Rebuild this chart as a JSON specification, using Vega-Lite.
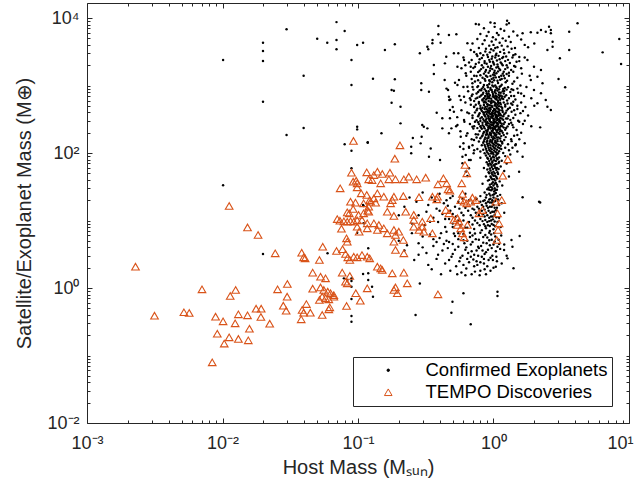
{
  "$schema": "https://vega.github.io/schema/vega-lite/v6.json",
  "width": 542,
  "height": 420,
  "autosize": {"type": "none"},
  "padding": {"left": 87, "top": 3, "right": 10, "bottom": 75},
  "background": "white",
  "config": {
    "view": {"stroke": null},
    "font": "Liberation Sans",
    "axis": {"domainColor": "#262626", "tickColor": "#262626", "labelColor": "#262626", "titleColor": "#262626", "labelFont": "Liberation Sans", "titleFont": "Liberation Sans", "labelFontSize": 18, "titleFontSize": 20, "titleFontWeight": "normal", "grid": false, "domainWidth": 1, "tickWidth": 1, "labelOverlap": false, "labelFlush": false},
    "legend": {"orient": "bottom-right", "offset": 17, "padding": 4, "strokeColor": "#262626", "fillColor": "white", "labelFont": "Liberation Sans", "labelFontSize": 18.5, "labelColor": "#000000", "labelLimit": 400, "symbolStrokeWidth": 1, "rowPadding": 3, "symbolOffset": 22, "labelOffset": 28, "cornerRadius": 0}
  },
  "datasets": {
    "exo": [
      {"host":0.0297,"mass":6800},{"host":0.0199,"mass":4310},{"host":0.0199,"mass":3240},{"host":0.0199,"mass":2310},{"host":0.0101,"mass":2390},{"host":0.0397,"mass":1400},{"host":0.0199,"mass":576},{"host":0.0397,"mass":235},{"host":0.0297,"mass":185},{"host":0.0101,"mass":33.2},{"host":0.0694,"mass":8700},{"host":0.0797,"mass":6420},{"host":0.05,"mass":4940},{"host":0.0593,"mass":4310},{"host":0.0694,"mass":4720},{"host":0.0694,"mass":3440},{"host":0.0986,"mass":3980},{"host":0.109,"mass":4310},{"host":0.0895,"mass":2390},{"host":0.0895,"mass":1020},{"host":0.0986,"mass":245},{"host":0.0986,"mass":224},{"host":0.0797,"mass":135},{"host":0.0895,"mass":108},{"host":0.118,"mass":142},{"host":0.0895,"mass":59.4},{"host":0.11,"mass":16.4},{"host":0.0199,"mass":3.19},{"host":0.0596,"mass":3.27},{"host":0.109,"mass":17},{"host":0.11,"mass":9.1},{"host":0.0986,"mass":6.6},{"host":0.119,"mass":3.87},{"host":0.109,"mass":1.61},{"host":0.119,"mass":1.65},{"host":0.119,"mass":1.31},{"host":0.0895,"mass":1.39},{"host":0.0895,"mass":1.27},{"host":0.0895,"mass":1.045},{"host":0.0895,"mass":0.687},{"host":0.0895,"mass":0.384},{"host":0.0895,"mass":0.317},{"host":0.0833,"mass":1.31},{"host":0.0787,"mass":1.39},
      {"host":0.158,"mass":3360},{"host":0.187,"mass":4080},{"host":0.129,"mass":1260},{"host":0.187,"mass":1235},{"host":0.177,"mass":858},{"host":0.184,"mass":837},{"host":0.177,"mass":556},{"host":0.206,"mass":485},{"host":0.206,"mass":275},{"host":0.149,"mass":196},{"host":0.118,"mass":144},{"host":0.254,"mass":167},{"host":0.247,"mass":124},{"host":0.247,"mass":99},{"host":0.29,"mass":139},{"host":0.295,"mass":174},{"host":0.306,"mass":245},{"host":0.325,"mass":232},{"host":0.344,"mass":117},{"host":0.334,"mass":88},{"host":0.403,"mass":79},{"host":0.298,"mass":260},{"host":0.293,"mass":1080},{"host":0.293,"mass":858},{"host":0.334,"mass":809},{"host":0.286,"mass":3000},{"host":0.325,"mass":3760},{"host":0.33,"mass":3440},{"host":0.355,"mass":4720},{"host":0.354,"mass":4220},{"host":0.392,"mass":7620},{"host":0.392,"mass":5740},{"host":0.407,"mass":4310},{"host":0.363,"mass":2010},{"host":0.363,"mass":1480},{"host":0.436,"mass":1210},{"host":0.462,"mass":858},{"host":0.472,"mass":610},{"host":0.381,"mass":395},{"host":0.419,"mass":327},{"host":0.477,"mass":327},{"host":0.438,"mass":2130},{"host":0.448,"mass":2670},{"host":0.469,"mass":5600},{"host":0.532,"mass":5740},{"host":0.51,"mass":3000},{"host":0.542,"mass":1900},{"host":0.556,"mass":1210},{"host":0.542,"mass":1020},{"host":0.573,"mass":610},{"host":0.469,"mass":683},{"host":0.477,"mass":434},{"host":0.51,"mass":409},{"host":0.542,"mass":260},{"host":0.419,"mass":232},{"host":0.489,"mass":232},{"host":0.469,"mass":196},{"host":0.573,"mass":174},{"host":0.566,"mass":124},{"host":0.6,"mass":115},{"host":0.624,"mass":93.4},{"host":0.59,"mass":88},{"host":0.659,"mass":79},{"host":0.59,"mass":70.4},{"host":0.624,"mass":52.8},{"host":0.659,"mass":59.4},{"host":0.642,"mass":45.6},
      {"host":2.43,"mass":6270},{"host":2.24,"mass":6640},{"host":2.11,"mass":6060},{"host":1.885,"mass":6140},{"host":1.64,"mass":5940},{"host":2.57,"mass":7440},{"host":2.65,"mass":6640},{"host":2.65,"mass":5940},{"host":2.73,"mass":4460},{"host":2.73,"mass":3760},{"host":2.5,"mass":3360},{"host":3.62,"mass":6270},{"host":4.17,"mass":8360},{"host":6.39,"mass":3100},{"host":8.48,"mass":4890},{"host":8.74,"mass":2080},{"host":3.09,"mass":2530},{"host":3.02,"mass":1250},{"host":3.38,"mass":940},{"host":3.62,"mass":3360},{"host":1.78,"mass":2390},{"host":1.99,"mass":1900},{"host":2.24,"mass":1700},{"host":1.885,"mass":1210},{"host":2.11,"mass":1350},{"host":2.3,"mass":1080},{"host":1.99,"mass":858},{"host":2.24,"mass":766},{"host":2.43,"mass":610},{"host":2.11,"mass":545},{"host":2.5,"mass":485},{"host":2.65,"mass":434},{"host":2.21,"mass":240},{"host":1.64,"mass":88},{"host":1.545,"mass":52.8},{"host":2.17,"mass":19},
      {"host":0.642,"mass":4220},{"host":0.679,"mass":3360},{"host":0.606,"mass":2390},{"host":0.679,"mass":1900},{"host":0.624,"mass":1520},{"host":0.699,"mass":1080},{"host":0.642,"mass":960},{"host":0.606,"mass":683},{"host":0.679,"mass":610},{"host":0.718,"mass":485},{"host":0.659,"mass":387},{"host":0.606,"mass":308},{"host":0.699,"mass":245},{"host":0.642,"mass":196},{"host":0.718,"mass":156},{"host":0.659,"mass":124},{"host":0.714,"mass":99},{"host":0.679,"mass":79},
      {"host":0.498,"mass":0.627},{"host":0.6,"mass":0.836},{"host":0.489,"mass":0.431},{"host":0.266,"mass":0.398},{"host":0.679,"mass":0.29},{"host":1.07,"mass":0.882},{"host":1.07,"mass":0.762},{"host":0.127,"mass":1.045},{"host":0.129,"mass":0.744},{"host":0.286,"mass":1.17},{"host":1.405,"mass":1.96},{"host":1.56,"mass":5.9},{"host":1.64,"mass":22.1},{"host":2.21,"mass":18.5},{"host":1.357,"mass":5.14},{"host":1.38,"mass":4.09},{"host":1.197,"mass":3.66},{"host":1.268,"mass":2.75},{"host":1.04,"mass":2.07},
      {"host":1.26,"mass":9100},{"host":1.02,"mass":8400},{"host":0.78,"mass":8000},{"host":1.3,"mass":8400},
      {"host":0.74,"mass":8150},{"host":0.85,"mass":7060},{"host":0.95,"mass":8600},{"host":1.02,"mass":7400},{"host":1.13,"mass":6900},{"host":1.25,"mass":8000},{"host":0.92,"mass":6200},{"host":1.06,"mass":6000},{"host":1.2,"mass":6500},{"host":1.4,"mass":6300},{"host":0.8,"mass":5800},{"host":0.89,"mass":5410},{"host":0.99,"mass":5200},{"host":1.09,"mass":5600},{"host":1.17,"mass":5000},{"host":1.3,"mass":5300},{"host":1.5,"mass":5500},{"host":0.76,"mass":4900},{"host":0.86,"mass":4700},{"host":0.97,"mass":4500},{"host":1.04,"mass":4800},{"host":1.11,"mass":4300},{"host":1.23,"mass":4600},{"host":1.34,"mass":4400},{"host":1.6,"mass":4800},{"host":0.7,"mass":4200},{"host":0.83,"mass":4110},{"host":0.93,"mass":3900},{"host":1.0,"mass":4000},{"host":1.07,"mass":3700},{"host":1.15,"mass":3900},{"host":1.27,"mass":3800},{"host":1.44,"mass":3600},{"host":1.7,"mass":4000},{"host":0.78,"mass":3590},{"host":0.88,"mass":3500},{"host":0.96,"mass":3450},{"host":1.03,"mass":3600},{"host":1.19,"mass":3400},{"host":1.36,"mass":3500},{"host":2.0,"mass":4200},{"host":1.8,"mass":3700},
      {"host":0.72,"mass":3130},{"host":0.8,"mass":3000},{"host":0.87,"mass":3200},{"host":0.94,"mass":3100},{"host":1.0,"mass":3300},{"host":1.05,"mass":2950},{"host":1.12,"mass":3150},{"host":1.2,"mass":3000},{"host":1.3,"mass":3100},{"host":1.45,"mass":2900},{"host":0.76,"mass":2730},{"host":0.84,"mass":2800},{"host":0.91,"mass":2650},{"host":0.98,"mass":2700},{"host":1.03,"mass":2600},{"host":1.09,"mass":2750},{"host":1.16,"mass":2550},{"host":1.24,"mass":2700},{"host":1.38,"mass":2600},{"host":1.55,"mass":2650},{"host":0.69,"mass":2390},{"host":0.79,"mass":2450},{"host":0.86,"mass":2300},{"host":0.93,"mass":2400},{"host":0.99,"mass":2250},{"host":1.06,"mass":2350},{"host":1.13,"mass":2200},{"host":1.22,"mass":2300},{"host":1.32,"mass":2150},{"host":1.48,"mass":2250},{"host":0.74,"mass":2080},{"host":0.82,"mass":2000},{"host":0.89,"mass":2100},{"host":0.96,"mass":1950},{"host":1.01,"mass":2050},{"host":1.08,"mass":1900},{"host":1.17,"mass":2000},{"host":1.27,"mass":1850},{"host":1.42,"mass":1950},{"host":0.71,"mass":1820},{"host":0.81,"mass":1750},{"host":0.88,"mass":1700},{"host":0.95,"mass":1800},{"host":1.02,"mass":1650},{"host":1.1,"mass":1780},{"host":1.19,"mass":1600},{"host":1.35,"mass":1700},{"host":1.6,"mass":1800},{"host":0.77,"mass":1580},{"host":0.85,"mass":1500},{"host":0.92,"mass":1550},{"host":0.99,"mass":1450},{"host":1.05,"mass":1520},{"host":1.14,"mass":1400},{"host":1.25,"mass":1480},{"host":0.75,"mass":1380},{"host":0.83,"mass":1300},{"host":0.9,"mass":1350},{"host":0.97,"mass":1250},{"host":1.04,"mass":1320},{"host":1.12,"mass":1220},{"host":1.21,"mass":1280},
      {"host":0.73,"mass":1150},{"host":0.8,"mass":1100},{"host":0.87,"mass":1180},{"host":0.93,"mass":1050},{"host":0.98,"mass":1120},{"host":1.03,"mass":1000},{"host":1.08,"mass":1090},{"host":1.15,"mass":1030},{"host":1.23,"mass":1120},{"host":1.38,"mass":1060},{"host":0.77,"mass":980},{"host":0.84,"mass":950},{"host":0.9,"mass":1010},{"host":0.95,"mass":920},{"host":1.0,"mass":970},{"host":1.06,"mass":900},{"host":1.11,"mass":960},{"host":1.18,"mass":890},{"host":1.28,"mass":940},{"host":1.5,"mass":900},{"host":0.71,"mass":870},{"host":0.81,"mass":850},{"host":0.86,"mass":880},{"host":0.92,"mass":820},{"host":0.97,"mass":860},{"host":1.02,"mass":800},{"host":1.07,"mass":840},{"host":1.13,"mass":780},{"host":1.2,"mass":830},{"host":1.33,"mass":800},{"host":0.75,"mass":760},{"host":0.83,"mass":740},{"host":0.89,"mass":770},{"host":0.94,"mass":720},{"host":0.99,"mass":750},{"host":1.04,"mass":700},{"host":1.09,"mass":730},{"host":1.16,"mass":690},{"host":1.24,"mass":720},{"host":1.42,"mass":700},{"host":0.79,"mass":680},{"host":0.85,"mass":650},{"host":0.91,"mass":690},{"host":0.96,"mass":640},{"host":1.01,"mass":670},{"host":1.05,"mass":620},{"host":1.1,"mass":660},{"host":1.18,"mass":630},{"host":1.3,"mass":650},{"host":0.74,"mass":640},{"host":0.88,"mass":620},{"host":1.12,"mass":615},{"host":0.69,"mass":700},{"host":1.6,"mass":760},{"host":1.36,"mass":880},{"host":0.82,"mass":900},{"host":0.94,"mass":1150},{"host":1.26,"mass":1180},{"host":1.01,"mass":1200},{"host":0.9,"mass":730},
      {"host":0.72,"mass":590},{"host":0.78,"mass":570},{"host":0.83,"mass":600},{"host":0.88,"mass":560},{"host":0.92,"mass":590},{"host":0.96,"mass":550},{"host":1.0,"mass":580},{"host":1.04,"mass":540},{"host":1.08,"mass":570},{"host":1.13,"mass":530},{"host":1.19,"mass":560},{"host":1.27,"mass":540},{"host":1.4,"mass":575},{"host":0.74,"mass":520},{"host":0.8,"mass":500},{"host":0.85,"mass":515},{"host":0.9,"mass":490},{"host":0.94,"mass":510},{"host":0.98,"mass":480},{"host":1.02,"mass":505},{"host":1.06,"mass":470},{"host":1.1,"mass":495},{"host":1.16,"mass":465},{"host":1.22,"mass":490},{"host":1.32,"mass":470},{"host":1.5,"mass":500},{"host":0.76,"mass":455},{"host":0.81,"mass":440},{"host":0.86,"mass":450},{"host":0.91,"mass":430},{"host":0.95,"mass":445},{"host":0.99,"mass":420},{"host":1.03,"mass":440},{"host":1.07,"mass":410},{"host":1.11,"mass":430},{"host":1.17,"mass":405},{"host":1.25,"mass":425},{"host":1.36,"mass":410},{"host":0.73,"mass":400},{"host":0.79,"mass":390},{"host":0.84,"mass":398},{"host":0.89,"mass":380},{"host":0.93,"mass":392},{"host":0.97,"mass":372},{"host":1.01,"mass":385},{"host":1.05,"mass":365},{"host":1.09,"mass":378},{"host":1.14,"mass":360},{"host":1.2,"mass":375},{"host":1.29,"mass":355},{"host":1.45,"mass":370},{"host":0.77,"mass":350},{"host":0.82,"mass":340},{"host":0.87,"mass":348},{"host":0.92,"mass":330},{"host":0.96,"mass":342},{"host":1.0,"mass":322},{"host":1.04,"mass":336},{"host":1.08,"mass":318},{"host":1.12,"mass":330},{"host":1.18,"mass":312},{"host":1.24,"mass":325},{"host":1.33,"mass":310},{"host":0.75,"mass":305},{"host":0.8,"mass":298},{"host":0.85,"mass":302},{"host":0.9,"mass":288},{"host":0.94,"mass":298},{"host":0.98,"mass":282},{"host":1.02,"mass":294},{"host":1.06,"mass":278},{"host":1.1,"mass":290},{"host":1.15,"mass":272},{"host":1.21,"mass":285},{"host":1.3,"mass":270},{"host":1.55,"mass":290},{"host":0.78,"mass":268},{"host":0.83,"mass":258},{"host":0.88,"mass":264},{"host":0.93,"mass":250},{"host":0.97,"mass":260},{"host":1.01,"mass":245},{"host":1.05,"mass":256},{"host":1.09,"mass":242},{"host":1.13,"mass":252},{"host":1.19,"mass":238},{"host":1.27,"mass":248},{"host":1.4,"mass":240},{"host":0.76,"mass":234},{"host":0.82,"mass":228},{"host":0.86,"mass":232},{"host":0.91,"mass":222},{"host":0.95,"mass":230},{"host":0.99,"mass":220},{"host":1.03,"mass":226},{"host":1.07,"mass":218},{"host":1.12,"mass":224},{"host":1.22,"mass":221},{"host":0.72,"mass":250},{"host":0.7,"mass":330},{"host":1.65,"mass":420},{"host":1.7,"mass":300},
      {"host":0.79,"mass":212},{"host":0.85,"mass":205},{"host":0.9,"mass":210},{"host":0.94,"mass":200},{"host":0.98,"mass":208},{"host":1.02,"mass":196},{"host":1.06,"mass":204},{"host":1.11,"mass":192},{"host":1.17,"mass":200},{"host":1.26,"mass":195},{"host":0.77,"mass":188},{"host":0.83,"mass":182},{"host":0.88,"mass":186},{"host":0.92,"mass":178},{"host":0.96,"mass":184},{"host":1.0,"mass":174},{"host":1.04,"mass":180},{"host":1.09,"mass":170},{"host":1.14,"mass":178},{"host":1.23,"mass":172},{"host":0.8,"mass":166},{"host":0.86,"mass":160},{"host":0.9,"mass":164},{"host":0.95,"mass":156},{"host":0.99,"mass":162},{"host":1.03,"mass":152},{"host":1.07,"mass":158},{"host":1.13,"mass":150},{"host":1.2,"mass":156},{"host":1.35,"mass":160},{"host":0.78,"mass":148},{"host":0.84,"mass":142},{"host":0.89,"mass":146},{"host":0.93,"mass":138},{"host":0.97,"mass":144},{"host":1.01,"mass":134},{"host":1.05,"mass":140},{"host":1.1,"mass":132},{"host":1.16,"mass":138},{"host":1.28,"mass":135},{"host":0.82,"mass":130},{"host":0.87,"mass":124},{"host":0.91,"mass":128},{"host":0.95,"mass":120},{"host":0.99,"mass":126},{"host":1.03,"mass":117},{"host":1.08,"mass":122},{"host":1.14,"mass":115},{"host":1.22,"mass":120},{"host":0.84,"mass":112},{"host":0.89,"mass":108},{"host":0.93,"mass":111},{"host":0.97,"mass":104},{"host":1.01,"mass":109},{"host":1.05,"mass":102},{"host":1.1,"mass":106},{"host":1.18,"mass":100},{"host":1.3,"mass":110},{"host":0.86,"mass":99},{"host":0.92,"mass":97},{"host":0.96,"mass":98},{"host":1.0,"mass":95},{"host":1.06,"mass":96},{"host":0.8,"mass":105},{"host":1.45,"mass":130},{"host":0.75,"mass":170},{"host":1.5,"mass":185},{"host":1.12,"mass":210},
      {"host":0.88,"mass":92},{"host":0.94,"mass":90},{"host":0.99,"mass":88},{"host":1.04,"mass":91},{"host":1.1,"mass":86},{"host":0.91,"mass":82},{"host":0.96,"mass":80},{"host":1.01,"mass":78},{"host":1.07,"mass":81},{"host":1.15,"mass":77},{"host":0.89,"mass":73},{"host":0.94,"mass":70},{"host":0.98,"mass":72},{"host":1.03,"mass":68},{"host":1.09,"mass":71},{"host":0.92,"mass":65},{"host":0.97,"mass":62},{"host":1.02,"mass":64},{"host":1.06,"mass":60},{"host":1.13,"mass":63},{"host":0.9,"mass":57},{"host":0.95,"mass":55},{"host":1.0,"mass":53},{"host":1.05,"mass":56},{"host":1.2,"mass":54},{"host":0.93,"mass":50},{"host":0.98,"mass":48},{"host":1.03,"mass":46},{"host":1.08,"mass":49},{"host":0.88,"mass":45},{"host":0.96,"mass":43},{"host":1.01,"mass":41},{"host":1.06,"mass":42},{"host":0.91,"mass":39},{"host":0.99,"mass":37},{"host":1.04,"mass":36},{"host":1.11,"mass":38},{"host":0.94,"mass":34},{"host":1.0,"mass":33},{"host":1.07,"mass":32},{"host":0.92,"mass":30.5},{"host":0.97,"mass":31},{"host":1.02,"mass":30},{"host":0.85,"mass":60},{"host":1.25,"mass":70},{"host":0.8,"mass":85},{"host":1.3,"mass":45},{"host":0.83,"mass":35},{"host":1.16,"mass":33},{"host":1.22,"mass":90},
      {"host":0.9,"mass":29},{"host":0.96,"mass":28},{"host":1.01,"mass":27},{"host":1.06,"mass":28.5},{"host":0.86,"mass":26},{"host":0.93,"mass":25},{"host":0.99,"mass":24},{"host":1.04,"mass":25.5},{"host":1.12,"mass":24},{"host":0.8,"mass":23},{"host":0.88,"mass":22},{"host":0.95,"mass":21},{"host":1.0,"mass":22},{"host":1.08,"mass":20.5},{"host":0.75,"mass":21},{"host":0.84,"mass":19.5},{"host":0.91,"mass":19},{"host":0.97,"mass":18.5},{"host":1.03,"mass":19.5},{"host":1.15,"mass":18},{"host":0.7,"mass":18},{"host":0.82,"mass":17},{"host":0.89,"mass":16.5},{"host":0.94,"mass":16},{"host":1.0,"mass":17},{"host":1.06,"mass":15.5},{"host":0.78,"mass":15},{"host":0.86,"mass":14.5},{"host":0.92,"mass":14},{"host":0.98,"mass":13.5},{"host":1.04,"mass":14.2},{"host":1.2,"mass":13},{"host":0.65,"mass":14},{"host":0.74,"mass":13},{"host":0.84,"mass":12.5},{"host":0.9,"mass":12},{"host":0.96,"mass":11.5},{"host":1.02,"mass":12.2},{"host":1.1,"mass":11},{"host":0.6,"mass":12},{"host":0.7,"mass":11},{"host":0.8,"mass":10.5},{"host":0.87,"mass":10.2},{"host":0.93,"mass":9.8},{"host":0.99,"mass":10.4},{"host":1.07,"mass":9.5},{"host":0.55,"mass":10},{"host":0.66,"mass":9.5},{"host":0.76,"mass":9.2},{"host":0.85,"mass":8.8},{"host":0.91,"mass":8.5},{"host":0.97,"mass":8.9},{"host":1.03,"mass":8.2},{"host":0.5,"mass":8},{"host":0.62,"mass":7.8},{"host":0.72,"mass":7.5},{"host":0.82,"mass":7.2},{"host":0.88,"mass":7.7},{"host":0.94,"mass":7},{"host":1.0,"mass":7.4},{"host":1.13,"mass":8},
      {"host":0.3,"mass":26},{"host":0.35,"mass":22},{"host":0.4,"mass":25},{"host":0.45,"mass":20},{"host":0.5,"mass":23},{"host":0.55,"mass":19},{"host":0.33,"mass":17},{"host":0.38,"mass":15},{"host":0.43,"mass":18},{"host":0.48,"mass":14},{"host":0.52,"mass":16},{"host":0.58,"mass":13},{"host":0.28,"mass":12},{"host":0.36,"mass":11},{"host":0.42,"mass":12.5},{"host":0.47,"mass":10.5},{"host":0.53,"mass":11.5},{"host":0.6,"mass":10},{"host":0.25,"mass":9},{"host":0.31,"mass":8.5},{"host":0.39,"mass":9.5},{"host":0.44,"mass":8},{"host":0.5,"mass":9},{"host":0.57,"mass":8.6},{"host":0.64,"mass":7.8},{"host":0.27,"mass":19},{"host":0.22,"mass":16},{"host":0.2,"mass":12},{"host":0.24,"mass":22},{"host":0.62,"mass":25},
      {"host":0.25,"mass":6.5},{"host":0.3,"mass":5.8},{"host":0.28,"mass":4.6},{"host":0.34,"mass":6.2},{"host":0.36,"mass":4.2},{"host":0.4,"mass":5.5},{"host":0.42,"mass":3.6},{"host":0.45,"mass":6.8},{"host":0.47,"mass":4.8},{"host":0.5,"mass":3.2},{"host":0.52,"mass":5.9},{"host":0.55,"mass":4.1},{"host":0.57,"mass":2.8},{"host":0.6,"mass":6.3},{"host":0.62,"mass":3.7},{"host":0.64,"mass":5.0},{"host":0.66,"mass":2.4},{"host":0.68,"mass":4.4},{"host":0.7,"mass":6.0},{"host":0.72,"mass":3.1},{"host":0.74,"mass":5.3},{"host":0.76,"mass":2.2},{"host":0.78,"mass":3.9},{"host":0.8,"mass":6.6},{"host":0.82,"mass":2.9},{"host":0.84,"mass":4.7},{"host":0.86,"mass":1.9},{"host":0.88,"mass":3.4},{"host":0.9,"mass":5.6},{"host":0.92,"mass":2.6},{"host":0.94,"mass":4.3},{"host":0.96,"mass":6.2},{"host":0.98,"mass":3.0},{"host":1.0,"mass":2.0},{"host":1.02,"mass":4.9},{"host":1.04,"mass":3.5},{"host":1.06,"mass":2.5},{"host":1.09,"mass":5.2},{"host":1.12,"mass":3.8},{"host":1.15,"mass":2.3},{"host":1.2,"mass":4.4},{"host":1.25,"mass":3.0},{"host":0.32,"mass":3.3},{"host":0.38,"mass":2.7},{"host":0.44,"mass":2.3},{"host":0.48,"mass":1.8},{"host":0.53,"mass":2.1},{"host":0.58,"mass":1.7},{"host":0.63,"mass":1.95},{"host":0.69,"mass":1.6},{"host":0.73,"mass":1.75},{"host":0.79,"mass":1.55},{"host":0.35,"mass":1.9},{"host":0.41,"mass":1.6},{"host":0.22,"mass":3.6},{"host":0.2,"mass":5.0},{"host":0.26,"mass":2.6},{"host":0.46,"mass":3.9},{"host":0.51,"mass":6.4},{"host":0.61,"mass":4.6},{"host":0.67,"mass":5.7},{"host":0.71,"mass":2.65},{"host":0.77,"mass":4.1},{"host":0.83,"mass":3.6},{"host":0.87,"mass":6.1},{"host":0.93,"mass":5.1},{"host":0.97,"mass":3.9},{"host":1.01,"mass":6.5},{"host":1.07,"mass":4.1},{"host":0.55,"mass":5.3},{"host":0.65,"mass":3.3},{"host":0.75,"mass":2.5},{"host":0.85,"mass":2.3},{"host":0.95,"mass":1.8},{"host":0.39,"mass":3.1},{"host":0.49,"mass":2.9},{"host":0.59,"mass":3.0},
      {"host":0.75,"mass":2900},{"host":0.82,"mass":2550},{"host":0.9,"mass":2850},{"host":0.97,"mass":2500},{"host":1.04,"mass":2800},{"host":1.11,"mass":2450},{"host":1.18,"mass":2650},{"host":1.28,"mass":2400},{"host":0.78,"mass":2200},{"host":0.86,"mass":2150},{"host":0.94,"mass":2250},{"host":1.0,"mass":2150},{"host":1.07,"mass":2050},{"host":1.15,"mass":2100},{"host":1.25,"mass":2000},{"host":0.73,"mass":1900},{"host":0.84,"mass":1850},{"host":0.91,"mass":1900},{"host":0.98,"mass":1750},{"host":1.05,"mass":1850},{"host":1.12,"mass":1700},{"host":1.22,"mass":1750},{"host":1.4,"mass":1600},{"host":0.79,"mass":1650},{"host":0.87,"mass":1600},{"host":0.94,"mass":1650},{"host":1.01,"mass":1550},{"host":1.08,"mass":1620},{"host":1.17,"mass":1500},{"host":1.3,"mass":1550},{"host":0.8,"mass":1420},{"host":0.88,"mass":1400},{"host":0.95,"mass":1380},{"host":1.02,"mass":1420},{"host":1.1,"mass":1340},{"host":1.19,"mass":1400},{"host":0.86,"mass":1250},{"host":0.93,"mass":1200},{"host":1.0,"mass":1300},{"host":1.07,"mass":1180},{"host":1.15,"mass":1250},{"host":0.77,"mass":1200},
      {"host":0.76,"mass":950},{"host":0.85,"mass":1020},{"host":0.91,"mass":940},{"host":0.98,"mass":1000},{"host":1.05,"mass":940},{"host":1.13,"mass":980},{"host":1.21,"mass":920},{"host":0.79,"mass":850},{"host":0.88,"mass":830},{"host":0.95,"mass":870},{"host":1.03,"mass":850},{"host":1.1,"mass":880},{"host":1.17,"mass":820},{"host":1.25,"mass":870},{"host":0.77,"mass":800},{"host":0.84,"mass":780},{"host":0.92,"mass":760},{"host":0.98,"mass":800},{"host":1.04,"mass":760},{"host":1.1,"mass":790},{"host":1.19,"mass":760},{"host":0.81,"mass":710},{"host":0.87,"mass":690},{"host":0.93,"mass":680},{"host":1.0,"mass":710},{"host":1.06,"mass":680},{"host":1.13,"mass":710},{"host":1.21,"mass":680},{"host":0.76,"mass":660},{"host":0.83,"mass":620},{"host":0.9,"mass":650},{"host":0.97,"mass":600},{"host":1.03,"mass":640},{"host":1.08,"mass":600},{"host":1.15,"mass":650},{"host":1.26,"mass":600},{"host":0.78,"mass":540},{"host":0.86,"mass":580},{"host":0.9,"mass":530},{"host":0.95,"mass":575},{"host":1.02,"mass":560},{"host":1.07,"mass":520},{"host":1.12,"mass":555},{"host":1.22,"mass":520},{"host":1.35,"mass":540},{"host":0.8,"mass":460},{"host":0.87,"mass":480},{"host":0.93,"mass":460},{"host":0.97,"mass":500},{"host":1.01,"mass":450},{"host":1.05,"mass":490},{"host":1.09,"mass":450},{"host":1.14,"mass":485},{"host":1.28,"mass":450},{"host":0.75,"mass":430},{"host":0.82,"mass":420},{"host":0.88,"mass":410},{"host":0.94,"mass":420},{"host":0.98,"mass":400},{"host":1.04,"mass":415},{"host":1.1,"mass":395},{"host":1.16,"mass":430},{"host":1.23,"mass":395},{"host":0.78,"mass":370},{"host":0.85,"mass":375},{"host":0.91,"mass":360},{"host":0.95,"mass":375},{"host":0.99,"mass":355},{"host":1.03,"mass":370},{"host":1.07,"mass":350},{"host":1.12,"mass":380},{"host":1.18,"mass":350},{"host":0.8,"mass":325},{"host":0.84,"mass":318},{"host":0.89,"mass":325},{"host":0.93,"mass":312},{"host":0.98,"mass":330},{"host":1.02,"mass":315},{"host":1.06,"mass":330},{"host":1.1,"mass":310},{"host":1.15,"mass":325},{"host":1.27,"mass":325},{"host":0.77,"mass":285},{"host":0.83,"mass":280},{"host":0.87,"mass":290},{"host":0.92,"mass":275},{"host":0.96,"mass":285},{"host":1.0,"mass":270},{"host":1.04,"mass":285},{"host":1.08,"mass":265},{"host":1.12,"mass":280},{"host":1.19,"mass":268},{"host":1.35,"mass":280},{"host":0.8,"mass":250},{"host":0.85,"mass":245},{"host":0.9,"mass":255},{"host":0.95,"mass":242},{"host":0.99,"mass":258},{"host":1.03,"mass":240},{"host":1.07,"mass":252},{"host":1.11,"mass":238},{"host":1.16,"mass":250},{"host":1.24,"mass":235},
      {"host":0.81,"mass":238},{"host":0.88,"mass":215},{"host":0.92,"mass":235},{"host":0.97,"mass":212},{"host":1.01,"mass":232},{"host":1.05,"mass":215},{"host":1.09,"mass":228},{"host":1.15,"mass":212},{"host":0.84,"mass":195},{"host":0.89,"mass":200},{"host":0.94,"mass":190},{"host":1.0,"mass":200},{"host":1.05,"mass":188},{"host":1.09,"mass":198},{"host":1.19,"mass":185},{"host":0.82,"mass":175},{"host":0.87,"mass":170},{"host":0.92,"mass":168},{"host":0.97,"mass":172},{"host":1.02,"mass":165},{"host":1.06,"mass":170},{"host":1.12,"mass":164},{"host":0.85,"mass":150},{"host":0.9,"mass":152},{"host":0.94,"mass":148},{"host":0.98,"mass":152},{"host":1.03,"mass":145},{"host":1.07,"mass":150},{"host":1.16,"mass":146},{"host":0.86,"mass":132},{"host":0.9,"mass":136},{"host":0.95,"mass":130},{"host":0.99,"mass":138},{"host":1.04,"mass":128},{"host":1.08,"mass":134},{"host":1.13,"mass":128},{"host":0.88,"mass":116},{"host":0.92,"mass":120},{"host":0.97,"mass":114},{"host":1.01,"mass":120},{"host":1.06,"mass":112},{"host":1.11,"mass":118},{"host":0.9,"mass":102},{"host":0.95,"mass":106},{"host":0.99,"mass":100},{"host":1.03,"mass":104},{"host":1.08,"mass":99},
      {"host":0.9,"mass":85},{"host":0.96,"mass":84},{"host":1.01,"mass":86},{"host":1.06,"mass":84},{"host":0.93,"mass":76},{"host":0.98,"mass":75},{"host":1.04,"mass":76},{"host":1.1,"mass":74},{"host":0.91,"mass":68},{"host":0.96,"mass":67},{"host":1.0,"mass":66},{"host":1.05,"mass":69},{"host":0.94,"mass":59},{"host":0.99,"mass":58},{"host":1.03,"mass":60},{"host":1.09,"mass":58},{"host":0.92,"mass":52},{"host":0.97,"mass":51},{"host":1.02,"mass":50},{"host":1.07,"mass":52},{"host":0.95,"mass":45},{"host":1.0,"mass":46},{"host":1.05,"mass":44},{"host":0.93,"mass":40},{"host":0.98,"mass":41},{"host":1.03,"mass":39},{"host":0.97,"mass":35},{"host":1.02,"mass":35},{"host":1.06,"mass":34},{"host":0.95,"mass":31.5},
      {"host":0.93,"mass":28.5},{"host":0.98,"mass":29},{"host":1.03,"mass":28},{"host":0.89,"mass":24},{"host":0.95,"mass":23.5},{"host":1.01,"mass":24.5},{"host":1.07,"mass":23},{"host":0.86,"mass":20},{"host":0.93,"mass":20.5},{"host":0.98,"mass":20},{"host":1.04,"mass":21},{"host":0.8,"mass":19},{"host":0.88,"mass":18},{"host":0.94,"mass":18.5},{"host":1.0,"mass":19},{"host":1.1,"mass":17},{"host":0.76,"mass":16},{"host":0.84,"mass":16},{"host":0.91,"mass":15.5},{"host":0.97,"mass":16},{"host":1.02,"mass":15.5},{"host":0.72,"mass":14.5},{"host":0.82,"mass":14},{"host":0.88,"mass":13},{"host":0.95,"mass":13},{"host":1.01,"mass":13.5},{"host":0.68,"mass":12},{"host":0.78,"mass":12},{"host":0.86,"mass":11.5},{"host":0.93,"mass":11},{"host":0.99,"mass":11.5},{"host":1.05,"mass":11.2},{"host":0.73,"mass":10},{"host":0.83,"mass":9.8},{"host":0.9,"mass":9.5},{"host":0.96,"mass":10},{"host":1.02,"mass":9.7},{"host":0.7,"mass":8.7},{"host":0.79,"mass":8.5},{"host":0.87,"mass":8.2},{"host":0.94,"mass":8.3},{"host":1.0,"mass":8.6},{"host":0.46,"mass":16.5},{"host":0.5,"mass":12.5},{"host":0.56,"mass":15},{"host":0.4,"mass":14},{"host":0.44,"mass":10.5},{"host":0.54,"mass":9.5},{"host":0.62,"mass":15.5},{"host":0.66,"mass":20},{"host":0.7,"mass":15},{"host":0.59,"mass":21},{"host":0.48,"mass":21.5},{"host":0.37,"mass":19},{"host":0.32,"mass":13.5},{"host":0.34,"mass":9.6},
      {"host":0.45,"mass":5},{"host":0.5,"mass":4.5},{"host":0.55,"mass":6.5},{"host":0.6,"mass":5.1},{"host":0.63,"mass":4},{"host":0.67,"mass":6.6},{"host":0.7,"mass":4.8},{"host":0.73,"mass":6.4},{"host":0.75,"mass":3.6},{"host":0.78,"mass":5.2},{"host":0.81,"mass":4.2},{"host":0.84,"mass":5.7},{"host":0.86,"mass":3.2},{"host":0.89,"mass":4.6},{"host":0.91,"mass":3.7},{"host":0.93,"mass":6.6},{"host":0.95,"mass":2.8},{"host":0.97,"mass":5.2},{"host":1.0,"mass":4.4},{"host":1.03,"mass":5.8},{"host":1.05,"mass":2.9},{"host":1.1,"mass":4.5},{"host":1.14,"mass":6},{"host":0.56,"mass":2.5},{"host":0.6,"mass":2.2},{"host":0.68,"mass":2.9},{"host":0.72,"mass":2.1},{"host":0.77,"mass":3.0},{"host":0.8,"mass":2.4},{"host":0.85,"mass":2.7},{"host":0.9,"mass":2.1},{"host":0.99,"mass":2.6},{"host":0.36,"mass":5.3},{"host":0.41,"mass":6.5},{"host":0.43,"mass":4.5},{"host":0.52,"mass":3.7},{"host":0.3,"mass":4.0},{"host":0.33,"mass":2.2},{"host":0.38,"mass":4.8},{"host":0.28,"mass":3.1},{"host":0.23,"mass":4.3},{"host":0.47,"mass":2.6},{"host":0.64,"mass":2.7},{"host":0.69,"mass":3.5},{"host":0.8,"mass":1.8},{"host":0.88,"mass":1.6},{"host":0.62,"mass":1.55},{"host":0.54,"mass":1.6},
      {"host":0.55,"mass":3000},{"host":0.6,"mass":2600},{"host":0.66,"mass":2200},{"host":0.58,"mass":1800},{"host":0.63,"mass":1400},{"host":0.69,"mass":1250},{"host":0.52,"mass":1100},{"host":0.6,"mass":950},{"host":0.65,"mass":820},{"host":0.7,"mass":740},{"host":0.56,"mass":700},{"host":0.62,"mass":560},{"host":0.68,"mass":520},{"host":0.5,"mass":480},{"host":0.58,"mass":430},{"host":0.64,"mass":400},{"host":0.7,"mass":360},{"host":0.54,"mass":340},{"host":0.61,"mass":290},{"host":0.67,"mass":270},{"host":0.71,"mass":230},{"host":0.57,"mass":210},{"host":0.63,"mass":180},{"host":0.69,"mass":160},{"host":0.6,"mass":140},{"host":0.66,"mass":120},{"host":0.72,"mass":110},{"host":0.53,"mass":250},{"host":0.48,"mass":620},{"host":0.45,"mass":900},{"host":0.68,"mass":1600},{"host":0.62,"mass":2000},{"host":0.72,"mass":1400},{"host":0.7,"mass":950},{"host":0.67,"mass":650},{"host":0.72,"mass":480},{"host":0.73,"mass":290},{"host":0.74,"mass":190},{"host":0.7,"mass":130},{"host":0.76,"mass":115},
      {"host":1.4,"mass":2800},{"host":1.55,"mass":2300},{"host":1.7,"mass":2600},{"host":1.45,"mass":1900},{"host":1.62,"mass":1500},{"host":1.5,"mass":1300},{"host":1.85,"mass":1400},{"host":1.42,"mass":1150},{"host":1.58,"mass":1000},{"host":1.75,"mass":950},{"host":1.4,"mass":860},{"host":1.52,"mass":780},{"host":1.68,"mass":700},{"host":1.9,"mass":650},{"host":1.45,"mass":620},{"host":1.6,"mass":560},{"host":1.38,"mass":520},{"host":1.5,"mass":450},{"host":1.72,"mass":480},{"host":1.42,"mass":430},{"host":1.58,"mass":390},{"host":1.8,"mass":360},{"host":1.4,"mass":330},{"host":1.52,"mass":300},{"host":1.65,"mass":270},{"host":1.38,"mass":260},{"host":1.48,"mass":220},{"host":1.6,"mass":200},{"host":1.42,"mass":180},{"host":1.55,"mass":160},{"host":1.36,"mass":150},{"host":1.46,"mass":135},{"host":1.7,"mass":140},{"host":1.38,"mass":120},{"host":1.5,"mass":105},{"host":1.33,"mass":95},{"host":1.9,"mass":250},{"host":2.0,"mass":500},{"host":1.35,"mass":700},{"host":1.3,"mass":1400},
      {"host":0.87,"mass":700},{"host":0.93,"mass":650},{"host":0.99,"mass":690},{"host":1.05,"mass":650},{"host":1.11,"mass":700},{"host":0.85,"mass":560},{"host":0.91,"mass":520},{"host":0.97,"mass":560},{"host":1.03,"mass":520},{"host":1.09,"mass":540},{"host":0.83,"mass":470},{"host":0.89,"mass":450},{"host":0.95,"mass":470},{"host":1.01,"mass":430},{"host":1.07,"mass":460},{"host":0.85,"mass":400},{"host":0.91,"mass":405},{"host":0.97,"mass":390},{"host":1.03,"mass":395},{"host":1.09,"mass":410},{"host":0.86,"mass":360},{"host":0.92,"mass":352},{"host":0.98,"mass":365},{"host":1.04,"mass":345},{"host":1.1,"mass":360},{"host":0.88,"mass":310},{"host":0.94,"mass":320},{"host":1.0,"mass":300},{"host":1.06,"mass":305},{"host":1.12,"mass":300},{"host":0.89,"mass":275},{"host":0.95,"mass":265},{"host":1.01,"mass":280},{"host":1.07,"mass":275},{"host":0.92,"mass":240},{"host":0.98,"mass":235},{"host":1.04,"mass":248},{"host":0.9,"mass":190},{"host":0.96,"mass":195},{"host":1.02,"mass":186}
    ],
    "tempo": [
      {"host":0.0112,"mass":16.4},{"host":0.0153,"mass":7.9},{"host":0.0183,"mass":6.1},{"host":0.0245,"mass":3.27},{"host":0.00228,"mass":2.07},{"host":0.0384,"mass":3.33},{"host":0.0397,"mass":2.85},{"host":0.0407,"mass":2.75},{"host":0.0549,"mass":4.09},{"host":0.0519,"mass":2.6},{"host":0.0694,"mass":3.54},{"host":0.0769,"mass":3.75},{"host":0.0809,"mass":3.19},{"host":0.0841,"mass":2.85},{"host":0.087,"mass":2.6},{"host":0.093,"mass":2.91},{"host":0.0986,"mass":2.85},{"host":0.107,"mass":3.08},{"host":0.117,"mass":2.91},{"host":0.0739,"mass":30},
      {"host":0.088,"mass":19},{"host":0.0958,"mass":18.4},{"host":0.0833,"mass":13.2},{"host":0.0862,"mass":12.8},{"host":0.0703,"mass":10.5},{"host":0.0735,"mass":9.93},{"host":0.0787,"mass":9.73},{"host":0.0833,"mass":9.6},{"host":0.088,"mass":9.77},{"host":0.093,"mass":9.6},{"host":0.0986,"mass":10.07},{"host":0.0755,"mass":7.56},{"host":0.0823,"mass":5.45},{"host":0.0833,"mass":4.85},{"host":0.0986,"mass":8.09},{"host":0.102,"mass":6.83},{"host":0.116,"mass":23.9},{"host":0.12,"mass":13.5},{"host":0.117,"mass":7.66},{"host":0.097,"mass":38.9},
      {"host":0.0986,"mass":35.6},{"host":0.0463,"mass":1.69},{"host":0.0529,"mass":1.47},{"host":0.0576,"mass":1.39},{"host":0.00706,"mass":0.956},{"host":0.0125,"mass":0.934},{"host":0.0114,"mass":0.762},{"host":0.0255,"mass":0.956},{"host":0.0301,"mass":1.146},{"host":0.03,"mass":0.744},{"host":0.0463,"mass":0.977},{"host":0.0529,"mass":1.02},{"host":0.0559,"mass":0.934},{"host":0.0598,"mass":0.882},{"host":0.0627,"mass":0.836},{"host":0.0663,"mass":0.787},{"host":0.0544,"mass":0.744},{"host":0.0576,"mass":0.704},{"host":0.0609,"mass":0.68},{"host":0.0663,"mass":0.744},
      {"host":0.0519,"mass":0.664},{"host":0.0765,"mass":1.69},{"host":0.0809,"mass":1.24},{"host":0.087,"mass":1.506},{"host":0.0833,"mass":1.174},{"host":0.0963,"mass":0.836},{"host":0.117,"mass":0.99},{"host":0.104,"mass":0.649},{"host":0.0823,"mass":0.541},{"host":0.0281,"mass":0.547},{"host":0.0295,"mass":0.461},{"host":0.0416,"mass":0.579},{"host":0.0387,"mass":0.472},{"host":0.0397,"mass":0.431},{"host":0.0381,"mass":0.344},{"host":0.0445,"mass":0.431},{"host":0.0544,"mass":0.398},{"host":0.0619,"mass":0.518},{"host":0.0609,"mass":0.484},{"host":0.00315,"mass":0.389},
      {"host":0.00519,"mass":0.437},{"host":0.00568,"mass":0.427},{"host":0.00889,"mass":0.376},{"host":0.0101,"mass":0.321},{"host":0.0131,"mass":0.408},{"host":0.0153,"mass":0.394},{"host":0.0177,"mass":0.494},{"host":0.0193,"mass":0.494},{"host":0.0192,"mass":0.372},{"host":0.0223,"mass":0.296},{"host":0.0124,"mass":0.3},{"host":0.0158,"mass":0.249},{"host":0.00915,"mass":0.21},{"host":0.0112,"mass":0.186},{"host":0.0131,"mass":0.176},{"host":0.0155,"mass":0.168},{"host":0.0103,"mass":0.15},{"host":0.0084,"mass":0.0793},{"host":0.0926,"mass":151},{"host":0.0895,"mass":51.1},
      {"host":0.0921,"mass":37.6},{"host":0.116,"mass":51.8},{"host":0.12,"mass":40.8},{"host":0.0986,"mass":31},{"host":0.1056,"mass":25.3},{"host":0.122,"mass":20.1},{"host":0.11,"mass":18},{"host":0.12,"mass":16},{"host":0.0921,"mass":14.8},{"host":0.101,"mass":12.1},{"host":0.204,"mass":130},{"host":0.187,"mass":82.4},{"host":1.275,"mass":80.7},{"host":0.616,"mass":66.4},{"host":0.635,"mass":50},{"host":1.17,"mass":46.1},{"host":0.131,"mass":47.2},{"host":0.127,"mass":39.8},{"host":0.139,"mass":52.8},{"host":0.151,"mass":48.9},
      {"host":0.172,"mass":51.1},{"host":0.189,"mass":40.8},{"host":0.169,"mass":40.8},{"host":0.147,"mass":35.6},{"host":0.218,"mass":40.8},{"host":0.237,"mass":44.6},{"host":0.271,"mass":40.8},{"host":0.316,"mass":43.1},{"host":0.427,"mass":42.2},{"host":0.389,"mass":34.4},{"host":0.451,"mass":35.6},{"host":0.462,"mass":29},{"host":0.477,"mass":27.6},{"host":0.583,"mass":35.6},{"host":0.131,"mass":21.3},{"host":0.139,"mass":25.3},{"host":0.155,"mass":22.5},{"host":0.124,"mass":19},{"host":0.135,"mass":18.4},{"host":0.184,"mass":22.5},
      {"host":0.179,"mass":20.1},{"host":0.174,"mass":18},{"host":0.216,"mass":23},{"host":0.282,"mass":22.1},{"host":0.354,"mass":22.5},{"host":0.381,"mass":20.6},{"host":0.386,"mass":22.5},{"host":0.59,"mass":24.7},{"host":0.606,"mass":19},{"host":0.573,"mass":20.1},{"host":0.699,"mass":21.8},{"host":0.679,"mass":19},{"host":0.635,"mass":18},{"host":0.74,"mass":20.1},{"host":1.04,"mass":19},{"host":1.15,"mass":20.1},{"host":0.1645,"mass":13.5},{"host":0.184,"mass":11.7},{"host":0.118,"mass":14},{"host":0.11,"mass":12.8},
      {"host":0.258,"mass":12.1},{"host":0.344,"mass":10.8},{"host":0.444,"mass":14.3},{"host":0.469,"mass":12.8},{"host":0.542,"mass":10.8},{"host":0.782,"mass":12.8},{"host":0.829,"mass":14.3},{"host":1.07,"mass":12.8},{"host":1.1,"mass":9.1},{"host":1.06,"mass":5.14},{"host":1.08,"mass":7.24},{"host":0.225,"mass":13.5},{"host":0.258,"mass":10.2},{"host":0.298,"mass":9.6},{"host":0.107,"mass":10.2},{"host":0.117,"mass":9.1},{"host":0.131,"mass":9.1},{"host":0.1425,"mass":8.58},{"host":0.139,"mass":7.24},{"host":0.155,"mass":7.66},
      {"host":0.1645,"mass":6.46},{"host":0.184,"mass":7.24},{"host":0.189,"mass":6.1},{"host":0.2,"mass":6.83},{"host":0.216,"mass":5.14},{"host":0.184,"mass":4.85},{"host":0.189,"mass":3.66},{"host":0.218,"mass":3.27},{"host":0.122,"mass":2.75},{"host":0.258,"mass":8.09},{"host":0.282,"mass":7.24},{"host":0.298,"mass":8.09},{"host":0.306,"mass":6.83},{"host":0.354,"mass":6.46},{"host":0.51,"mass":10.2},{"host":0.556,"mass":9.6},{"host":0.542,"mass":8.58},{"host":0.573,"mass":7.66},{"host":0.642,"mass":8.58},{"host":0.59,"mass":6.46},
      {"host":0.606,"mass":5.64},{"host":0.139,"mass":2.07},{"host":0.147,"mass":1.96},{"host":0.151,"mass":1.85},{"host":0.179,"mass":1.65},{"host":0.218,"mass":1.69},{"host":0.231,"mass":1.174},{"host":0.184,"mass":0.934},{"host":0.195,"mass":0.836},{"host":0.189,"mass":1.02},{"host":0.389,"mass":0.807}
    ]
  },
  "resolve": {"axis": {"x": "independent", "y": "independent"}},
  "layer": [
    {
      "data": {"name": "exo"},
      "mark": {"type": "point", "filled": true, "strokeWidth": 0, "opacity": 1},
      "encoding": {
        "x": {"field": "host", "type": "quantitative", "scale": {"type": "log", "domain": [0.001, 10], "nice": false, "zero": false},
          "axis": {"orient": "bottom", "title": "Host Mass (Mₛᵤₙ)", "titlePadding": 3,
            "values": [0.001,0.002,0.003,0.004,0.005,0.006,0.007,0.008,0.009,0.01,0.02,0.03,0.04,0.05,0.06,0.07,0.08,0.09,0.1,0.2,0.3,0.4,0.5,0.6,0.7,0.8,0.9,1,2,3,4,5,6,7,8,9,10],
            "labelExpr": "datum.value==0.001?'10⁻³':datum.value==0.01?'10⁻²':datum.value==0.1?'10⁻¹':datum.value==1?'10⁰':datum.value==10?'10¹':''",
            "labelAlign": {"condition": {"test": "datum.value==10", "value": "right"}, "value": "center"},
            "labelOffset": {"condition": {"test": "datum.value==10", "value": 4}, "value": 0},
            "tickSize": {"condition": {"test": "indexof([0.001,0.01,0.1,1,10],datum.value)>=0", "value": -5}, "value": -3},
            "labelPadding": 16}},
        "y": {"field": "mass", "type": "quantitative", "scale": {"type": "log", "domain": [0.01, 16700], "nice": false, "zero": false},
          "axis": {"orient": "left", "title": "Satellite/Exoplanet Mass (M⊕)", "titlePadding": 12,
            "values": [0.01,0.02,0.03,0.04,0.05,0.06,0.07,0.08,0.09,0.1,0.2,0.3,0.4,0.5,0.6,0.7,0.8,0.9,1,2,3,4,5,6,7,8,9,10,20,30,40,50,60,70,80,90,100,200,300,400,500,600,700,800,900,1000,2000,3000,4000,5000,6000,7000,8000,9000,10000],
            "labelExpr": "datum.value==0.01?'10⁻²':datum.value==1?'10⁰':datum.value==100?'10²':datum.value==10000?'10⁴':''",
            "tickSize": {"condition": {"test": "indexof([0.01,1,100,10000],datum.value)>=0", "value": -5}, "value": -3},
            "labelPadding": 13}},
        "shape": {"datum": "Confirmed Exoplanets", "type": "nominal", "scale": {"domain": ["Confirmed Exoplanets", "TEMPO Discoveries"], "range": ["circle", "triangle-up"]}, "legend": {"title": null}},
        "size": {"datum": "Confirmed Exoplanets", "type": "ordinal", "scale": {"domain": ["Confirmed Exoplanets", "TEMPO Discoveries"], "range": [6, 58]}, "legend": {"title": null}},
        "fill": {"datum": "Confirmed Exoplanets", "type": "nominal", "scale": {"domain": ["Confirmed Exoplanets", "TEMPO Discoveries"], "range": ["#000000", "transparent"]}, "legend": {"title": null}},
        "stroke": {"datum": "Confirmed Exoplanets", "type": "nominal", "scale": {"domain": ["Confirmed Exoplanets", "TEMPO Discoveries"], "range": ["#000000", "#D95319"]}, "legend": {"title": null}}
      }
    },
    {
      "data": {"name": "tempo"},
      "mark": {"type": "point", "filled": false, "strokeWidth": 1.1, "opacity": 1},
      "encoding": {
        "x": {"field": "host", "type": "quantitative", "scale": {"type": "log", "domain": [0.001, 10], "nice": false, "zero": false},
          "axis": {"orient": "top", "title": null, "labels": false,
            "values": [0.001,0.002,0.003,0.004,0.005,0.006,0.007,0.008,0.009,0.01,0.02,0.03,0.04,0.05,0.06,0.07,0.08,0.09,0.1,0.2,0.3,0.4,0.5,0.6,0.7,0.8,0.9,1,2,3,4,5,6,7,8,9,10],
            "tickSize": {"condition": {"test": "indexof([0.001,0.01,0.1,1,10],datum.value)>=0", "value": -5}, "value": -3}}},
        "y": {"field": "mass", "type": "quantitative", "scale": {"type": "log", "domain": [0.01, 16700], "nice": false, "zero": false},
          "axis": {"orient": "right", "title": null, "labels": false,
            "values": [0.01,0.02,0.03,0.04,0.05,0.06,0.07,0.08,0.09,0.1,0.2,0.3,0.4,0.5,0.6,0.7,0.8,0.9,1,2,3,4,5,6,7,8,9,10,20,30,40,50,60,70,80,90,100,200,300,400,500,600,700,800,900,1000,2000,3000,4000,5000,6000,7000,8000,9000,10000],
            "tickSize": {"condition": {"test": "indexof([0.01,1,100,10000],datum.value)>=0", "value": -5}, "value": -3}}},
        "shape": {"datum": "TEMPO Discoveries", "type": "nominal", "legend": {"title": null}},
        "size": {"datum": "TEMPO Discoveries", "type": "ordinal", "legend": {"title": null}},
        "fill": {"datum": "TEMPO Discoveries", "type": "nominal", "legend": {"title": null}},
        "stroke": {"datum": "TEMPO Discoveries", "type": "nominal", "legend": {"title": null}}
      }
    }
  ]
}
